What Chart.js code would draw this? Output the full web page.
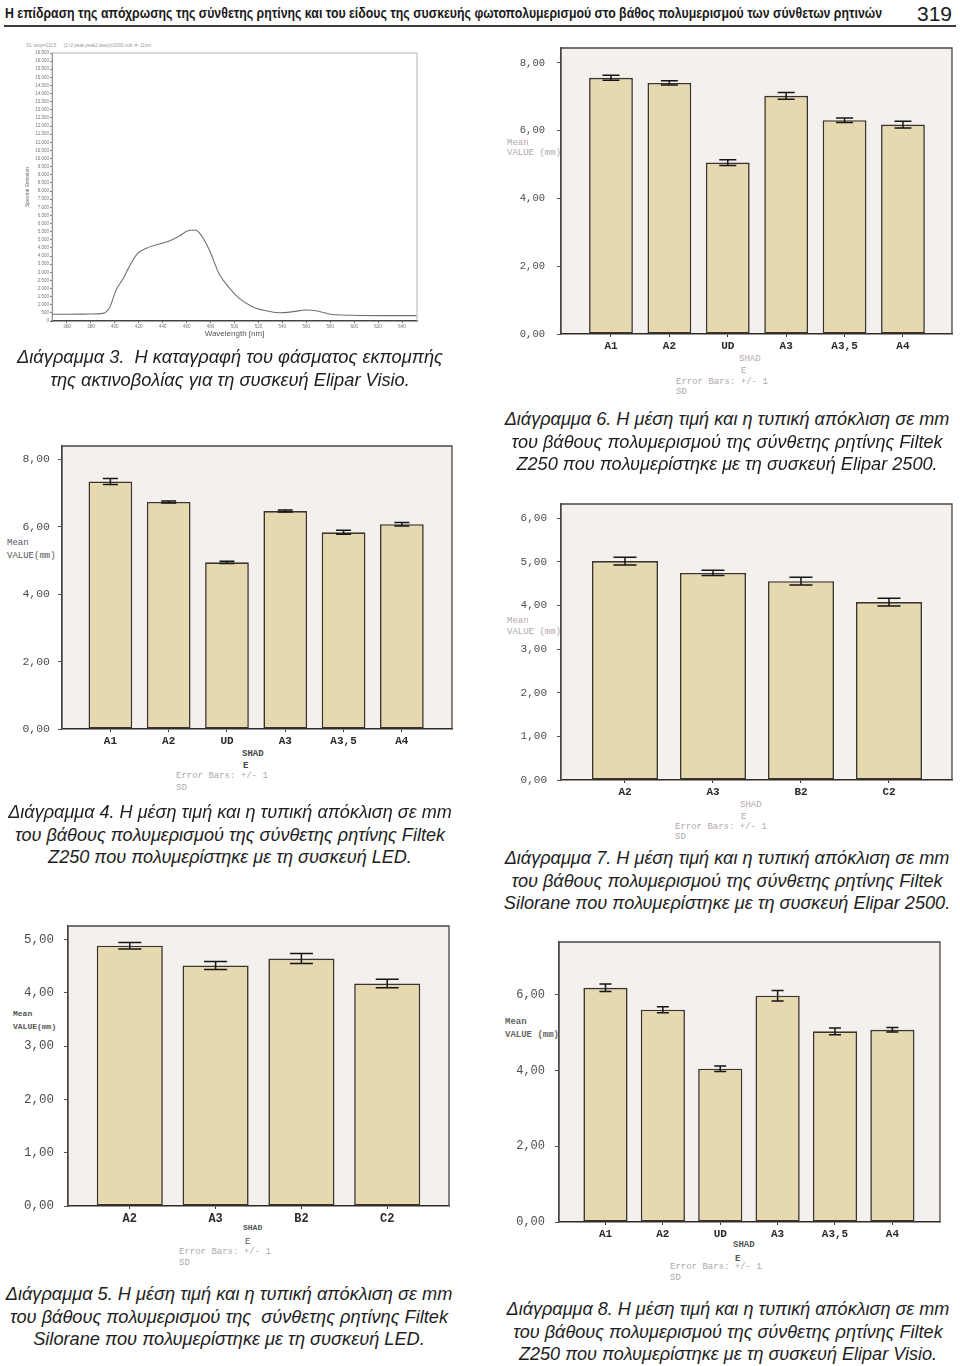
<!DOCTYPE html>
<html><head><meta charset="utf-8">
<script src="https://cdn.jsdelivr.net/npm/chart.js@4.4.1/dist/chart.umd.min.js"></script>
<style>
html,body{margin:0;padding:0;background:#fff}
body{position:relative;width:960px;height:1366px;overflow:hidden;font-family:"Liberation Sans",Arial,Helvetica,sans-serif;color:#1a1a1a}
.t{position:absolute;white-space:pre;line-height:1;z-index:1}
.cap{position:absolute;font-style:italic;text-align:center;white-space:pre;color:#1e1e1e;z-index:3}
.mono{font-family:"Liberation Mono","DejaVu Sans Mono","Courier New",monospace}
canvas{position:absolute;z-index:2}
</style></head><body>
<div id="hdr" class="t" style="left:5px;top:5px;font-weight:bold;font-size:15px;font-family:'Liberation Sans Narrow','Liberation Sans',Arial,sans-serif;transform-origin:0 0">Η επίδραση της απόχρωσης της σύνθετης ρητίνης και του είδους της συσκευής φωτοπολυμερισμού στο βάθος πολυμερισμού των σύνθετων ρητινών</div>
<div class="t" style="left:917px;top:3px;font-size:21px">319</div>
<div style="position:absolute;left:4px;top:25px;width:952px;height:2px;background:#3c3c3c"></div>
<script>
// ---------- DATA ----------
const specWavelength = [347, 360, 380, 390, 396, 401, 407, 412, 419, 426, 437, 446, 454, 461, 467, 471, 479, 487, 496, 504, 515, 526, 537, 549, 560, 568, 579, 599, 624, 652];
const specEmission   = [420, 420, 430, 470, 880, 1900, 2620, 3340, 4160, 4470, 4735, 4940, 5230, 5555, 5600, 5390, 4370, 2930, 2010, 1390, 880, 635, 510, 575, 680, 635, 430, 350, 330, 330];
const specXTicks = [360, 380, 400, 420, 440, 460, 480, 500, 520, 540, 560, 580, 600, 620, 640];

const shadesA = ['A1', 'A2', 'UD', 'A3', 'A3,5', 'A4'];
const shadesB = ['A2', 'A3', 'B2', 'C2'];

const d4Mean = [7.34, 6.73, 4.94, 6.46, 5.83, 6.07];
const d4Sd   = [0.09, 0.03, 0.03, 0.03, 0.06, 0.05];
const d5Mean = [4.88, 4.51, 4.64, 4.17];
const d5Sd   = [0.06, 0.075, 0.095, 0.08];
const d6Mean = [7.56, 7.41, 5.06, 7.03, 6.31, 6.18];
const d6Sd   = [0.075, 0.06, 0.085, 0.10, 0.065, 0.10];
const d7Mean = [5.02, 4.75, 4.56, 4.08];
const d7Sd   = [0.09, 0.06, 0.09, 0.09];
const d8Mean = [6.19, 5.61, 4.05, 5.98, 5.04, 5.08];
const d8Sd   = [0.10, 0.08, 0.075, 0.14, 0.09, 0.06];

const yTicks8 = [0, 2, 4, 6, 8];
const yTicks6 = [0, 1, 2, 3, 4, 5, 6];
const yTicks5 = [0, 1, 2, 3, 4, 5];
const yTicksD8 = [0, 2, 4, 6];

// ---------- helpers ----------
const MONO = '"Liberation Mono","DejaVu Sans Mono","Courier New",monospace';
function lab(s, x, yc, size, color, extra) {
  const d = document.createElement('div');
  d.className = 't mono';
  d.textContent = s;
  d.style.left = x + 'px';
  d.style.top = (yc - size / 2) + 'px';
  d.style.fontSize = size + 'px';
  d.style.color = color;
  if (extra) Object.assign(d.style, extra);
  document.body.appendChild(d);
  return d;
}
function caption(lines, cx, y1, target, family) {
  const probe = document.createElement('span');
  probe.style.cssText = 'position:absolute;visibility:hidden;white-space:pre;font-style:italic;font-size:16px;font-family:' + family;
  probe.textContent = lines[0];
  document.body.appendChild(probe);
  const w = probe.getBoundingClientRect().width;
  probe.remove();
  const fs = 16 * target / w;
  lines.forEach((ln, i) => {
    const d = document.createElement('div');
    d.className = 'cap';
    d.style.fontFamily = family;
    d.style.fontSize = fs + 'px';
    d.style.lineHeight = '20px';
    d.textContent = ln;
    d.style.left = (cx - 300) + 'px';
    d.style.width = '600px';
    d.style.top = (y1 + i * 22.5 - 10) + 'px';
    document.body.appendChild(d);
  });
}

const framePlugin = {
  id: 'frame',
  beforeDraw(chart, args, o) {
    const a = chart.chartArea, c = chart.ctx;
    c.save();
    c.fillStyle = o.bg;
    c.fillRect(a.left, a.top, a.right - a.left, a.bottom - a.top);
    c.restore();
  },
  beforeDatasetsDraw(chart, args, o) {
    const a = chart.chartArea, c = chart.ctx;
    c.save();
    c.strokeStyle = o.color;
    c.lineWidth = o.width;
    c.beginPath();
    c.moveTo(a.left, a.bottom);
    c.lineTo(a.left, a.top);
    c.lineTo(a.right, a.top);
    c.lineTo(a.right, a.bottom);
    c.stroke();
    c.restore();
  }
};
const errPlugin = {
  id: 'errbars',
  afterDatasetsDraw(chart, args, o) {
    const ds = chart.data.datasets[0];
    if (!ds.sd) return;
    const xs = chart.scales.x, ys = chart.scales.y, c = chart.ctx;
    c.save();
    c.strokeStyle = o.color;
    c.lineWidth = o.width;
    ds.data.forEach((p, i) => {
      const s = ds.sd[i];
      const x = xs.getPixelForValue(p.x);
      const y1 = ys.getPixelForValue(p.y + s), y2 = ys.getPixelForValue(p.y - s);
      c.beginPath();
      c.moveTo(x, y1); c.lineTo(x, y2);
      c.moveTo(x - o.half, y1); c.lineTo(x + o.half, y1);
      c.moveTo(x - o.half, y2); c.lineTo(x + o.half, y2);
      c.stroke();
    });
    c.restore();
  }
};

function makeBar(cfg) {
  const yW = 60, xH = 26, pT = 4, pR = 4;
  const b = cfg.box;
  const L = b.l - yW, T = b.t - pT;
  const W = b.r + pR - L, H = b.b + xH - T;
  const cv = document.createElement('canvas');
  cv.width = W; cv.height = H;
  cv.style.left = L + 'px'; cv.style.top = T + 'px';
  cv.style.width = W + 'px'; cv.style.height = H + 'px';
  document.body.appendChild(cv);
  const cats = cfg.cats;
  new Chart(cv, {
    type: 'bar',
    data: {
      datasets: [{
        data: cfg.mean.map((v, i) => ({ x: i, y: v })),
        sd: cfg.sd,
        backgroundColor: '#e6d9b0',
        borderColor: '#3b342d',
        borderWidth: 1.6,
        borderSkipped: false,
        categoryPercentage: 1,
        barPercentage: cfg.barPct || 0.75
      }]
    },
    options: {
      responsive: false, devicePixelRatio: 1, animation: false,
      layout: { padding: { top: pT, right: pR, left: 0, bottom: 0 } },
      plugins: {
        legend: { display: false }, tooltip: { enabled: false },
        frame: { bg: '#f4f0ed', color: '#4a4541', width: 1.3 },
        errbars: { color: '#151515', width: 1.5, half: cfg.capHalf }
      },
      scales: {
        x: {
          type: 'linear', min: cfg.xMin, max: cfg.xMax, offset: false,
          afterBuildTicks: s => { s.ticks = cats.map((c, i) => ({ value: i })); },
          afterFit: s => { s.height = xH; s.paddingLeft = 0; s.paddingRight = 0; },
          ticks: { callback: v => cats[v], font: { family: MONO, size: cfg.xFont || 11, weight: 'bold' }, color: '#2b2b2b', padding: 3, maxRotation: 0, autoSkip: false },
          grid: { drawOnChartArea: false, drawTicks: true, tickLength: 3, color: '#333', offset: false },
          border: { display: true, color: '#2f2b28', width: 1.6 }
        },
        y: {
          type: 'linear', min: 0, max: cfg.yMax,
          afterBuildTicks: s => { s.ticks = cfg.yTicks.map(v => ({ value: v })); },
          afterFit: s => { s.width = yW; s.paddingTop = 0; s.paddingBottom = 0; },
          ticks: { callback: v => v.toFixed(2).replace('.', ','), font: { family: MONO, size: cfg.yFont || 10.5 }, color: cfg.yColor || '#4d4d4d', padding: cfg.yPad, autoSkip: false },
          grid: { drawOnChartArea: false, drawTicks: true, tickLength: 4, color: '#555' },
          border: { display: true, color: '#4a4541', width: 1.3 }
        }
      }
    },
    plugins: [framePlugin, errPlugin]
  });
}

// ---------- Spectrum (Diagram 3) ----------
(function () {
  const yW = 44, xH = 23, pT = 11, pR = 9;
  const box = { l: 52, t: 53, r: 417, b: 321 };
  const L = box.l - yW, T = box.t - pT, W = box.r + pR - L, H = box.b + xH - T;
  const cv = document.createElement('canvas');
  cv.width = W; cv.height = H;
  cv.style.left = L + 'px'; cv.style.top = T + 'px';
  cv.style.width = W + 'px'; cv.style.height = H + 'px';
  document.body.appendChild(cv);
  const fmt = v => v >= 1000 ? Math.floor(v / 1000) + '.' + String(v % 1000).padStart(3, '0') : String(v);
  new Chart(cv, {
    type: 'line',
    data: { datasets: [{ data: specWavelength.map((x, i) => ({ x, y: specEmission[i] })), borderColor: '#707070', borderWidth: 1.1, pointRadius: 0, cubicInterpolationMode: 'monotone', fill: false }] },
    options: {
      responsive: false, devicePixelRatio: 1, animation: false,
      layout: { padding: { top: pT, right: pR, left: 0, bottom: 0 } },
      plugins: { legend: { display: false }, tooltip: { enabled: false }, frame: { bg: '#ffffff', color: '#b5b5b5', width: 1 } },
      scales: {
        x: {
          type: 'linear', min: 347.5, max: 652.5,
          afterBuildTicks: s => { s.ticks = specXTicks.map(v => ({ value: v })); },
          afterFit: s => { s.height = xH; s.paddingLeft = 0; s.paddingRight = 0; },
          ticks: { font: { size: 4.5 }, color: '#777', padding: 1, maxRotation: 0, autoSkip: false },
          grid: { drawOnChartArea: false, tickLength: 2, color: '#666' },
          border: { color: '#444', width: 1.4 },
          title: { display: true, text: 'Wavelength [nm]', font: { size: 8 }, color: '#555', padding: { top: 0, bottom: 5 } }
        },
        y: {
          type: 'linear', min: 0, max: 16500,
          afterFit: s => { s.width = yW; s.paddingTop = 0; s.paddingBottom = 0; },
          ticks: { stepSize: 500, callback: v => fmt(v), font: { size: 4.5 }, color: '#777', padding: 1, autoSkip: false },
          grid: { drawOnChartArea: false, tickLength: 2, color: '#777' },
          border: { color: '#777', width: 1 },
          title: { display: true, text: 'Spectral Emission', font: { size: 5 }, color: '#666', padding: { top: 17, bottom: 0 } }
        }
      }
    },
    plugins: [framePlugin]
  });
  lab('S1: amp=211.5      (1>2 peak peak2 deep(x/2000.sub: #- 11nm', 26, 46, 4.5, '#999', { fontFamily: 'Liberation Sans, Arial, sans-serif' });
})();

// ---------- Bar charts ----------
makeBar({ box: { l: 561, t: 48, r: 952, b: 334 }, cats: shadesA, mean: d6Mean, sd: d6Sd, yMax: 8.44, yTicks: yTicks8, xMin: -0.856, xMax: 5.84, capHalf: 8.5, yPad: 12, yFont: 10.5 });
makeBar({ box: { l: 62, t: 446, r: 452, b: 729 }, cats: shadesA, mean: d4Mean, sd: d4Sd, yMax: 8.39, yTicks: yTicks8, xMin: -0.83, xMax: 5.86, capHalf: 7.5, yPad: 8, yFont: 11.5 });
makeBar({ box: { l: 561, t: 504, r: 952, b: 780 }, cats: shadesB, mean: d7Mean, sd: d7Sd, yMax: 6.33, yTicks: yTicks6, xMin: -0.727, xMax: 3.716, capHalf: 11.5, yPad: 10, yFont: 11 });
makeBar({ box: { l: 68, t: 926, r: 449, b: 1206 }, cats: shadesB, mean: d5Mean, sd: d5Sd, yMax: 5.25, yTicks: yTicks5, xMin: -0.72, xMax: 3.72, capHalf: 11.5, yPad: 10, yFont: 12.5, xFont: 12, barPct: 0.77 });
makeBar({ box: { l: 559, t: 942, r: 940, b: 1222 }, cats: shadesA, mean: d8Mean, sd: d8Sd, yMax: 7.4, yTicks: yTicksD8, xMin: -0.81, xMax: 5.83, capHalf: 6, yPad: 10, yFont: 12, barPct: 0.77 });

// ---------- axis annotations ----------
const light = '#b4a6ad';
// D6
lab('Mean', 507, 143, 9, light); lab('VALUE (mm)', 507, 153, 9, light);
lab('SHAD', 739, 359, 9, light); lab('E', 741, 371, 9, light);
lab('Error Bars: +/- 1', 676, 382, 9, light); lab('SD', 676, 392, 9, light);
// D4
lab('Mean', 7, 543, 9, '#555'); lab('VALUE(mm)', 7, 556, 9, '#555');
lab('SHAD', 242, 754, 9, '#444', { fontWeight: 'bold' }); lab('E', 243, 766, 9, '#444', { fontWeight: 'bold' });
lab('Error Bars: +/- 1', 176, 776, 9, '#aaa'); lab('SD', 176, 788, 9, '#aaa');
// D7
lab('Mean', 507, 621, 9, light); lab('VALUE (mm)', 507, 632, 9, light);
lab('SHAD', 740, 805, 9, light); lab('E', 741, 817, 9, light);
lab('Error Bars: +/- 1', 675, 827, 9, light); lab('SD', 675, 837, 9, light);
// D5
lab('Mean', 13, 1014, 8, '#555', { fontWeight: 'bold' }); lab('VALUE(mm)', 13, 1027, 8, '#555', { fontWeight: 'bold' });
lab('SHAD', 243, 1228, 8, '#555', { fontWeight: 'bold' }); lab('E', 245, 1242, 9, '#555');
lab('Error Bars: +/- 1', 179, 1252, 9, '#aaa'); lab('SD', 179, 1263, 9, '#aaa');
// D8
lab('Mean', 505, 1022, 9, '#666', { fontWeight: 'bold' }); lab('VALUE (mm)', 505, 1035, 9, '#666', { fontWeight: 'bold' });
lab('SHAD', 733, 1245, 9, '#555', { fontWeight: 'bold' }); lab('E', 735, 1259, 9, '#555', { fontWeight: 'bold' });
lab('Error Bars: +/- 1', 670, 1267, 9, '#aaa'); lab('SD', 670, 1278, 9, '#aaa');

// ---------- captions ----------
const SANS = '"Liberation Sans",Arial,sans-serif';
const NARROW = '"Liberation Sans Narrow","Liberation Sans",Arial,sans-serif';
caption(['Διάγραμμα 3.  Η καταγραφή του φάσματος εκπομπής', 'της ακτινοβολίας για τη συσκευή Elipar Visio.'], 230, 357, 426, SANS);
caption(['Διάγραμμα 6. Η μέση τιμή και η τυπική απόκλιση σε mm', 'του βάθους πολυμερισμού της σύνθετης ρητίνης Filtek', 'Z250 που πολυμερίστηκε με τη συσκευή Elipar 2500.'], 727, 419, 445, SANS);
caption(['Διάγραμμα 4. Η μέση τιμή και η τυπική απόκλιση σε mm', 'του βάθους πολυμερισμού της σύνθετης ρητίνης Filtek', 'Z250 που πολυμερίστηκε με τη συσκευή LED.'], 230, 812, 444, SANS);
caption(['Διάγραμμα 7. Η μέση τιμή και η τυπική απόκλιση σε mm', 'του βάθους πολυμερισμού της σύνθετης ρητίνης Filtek', 'Silorane που πολυμερίστηκε με τη συσκευή Elipar 2500.'], 727, 858, 445, SANS);
caption(['Διάγραμμα 5. Η μέση τιμή και η τυπική απόκλιση σε mm', 'του βάθους πολυμερισμού της  σύνθετης ρητίνης Filtek', 'Silorane που πολυμερίστηκε με τη συσκευή LED.'], 229, 1294, 447, NARROW);
caption(['Διάγραμμα 8. Η μέση τιμή και η τυπική απόκλιση σε mm', 'του βάθους πολυμερισμού της σύνθετης ρητίνης Filtek', 'Z250 που πολυμερίστηκε με τη συσκευή Elipar Visio.'], 728, 1309, 443, NARROW);

// header fit
(function () {
  const h = document.getElementById('hdr');
  const w = h.getBoundingClientRect().width;
  h.style.transform = 'scaleX(' + (877 / w) + ')';
})();
</script>
</body></html>
